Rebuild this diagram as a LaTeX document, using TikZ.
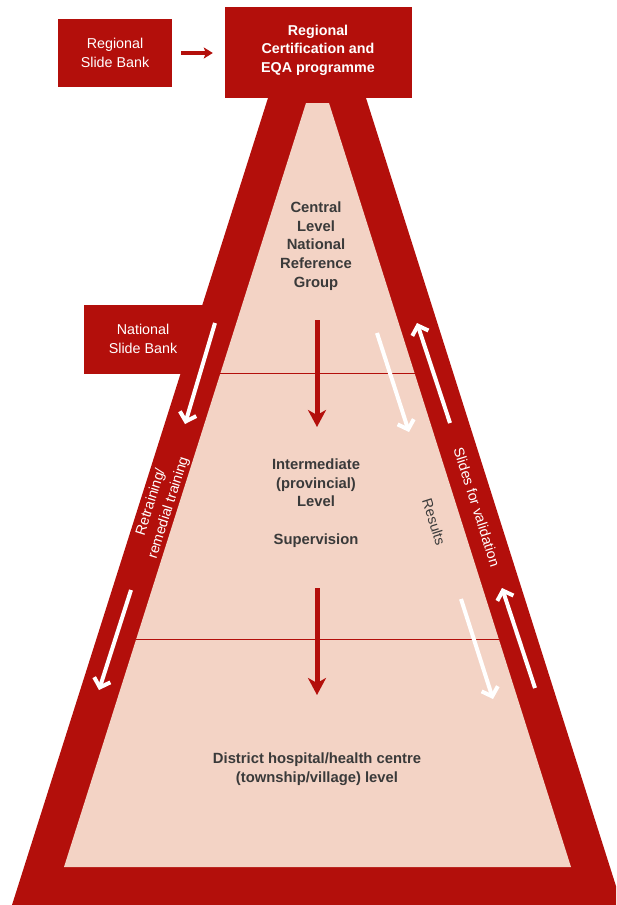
\documentclass[tikz,border=0pt]{standalone}
\usepackage{fontspec}
\setmainfont{Liberation Sans}
\usetikzlibrary{arrows.meta}
\definecolor{dred}{RGB}{179,15,11}
\definecolor{pinkfill}{RGB}{243,211,197}
\definecolor{txtgray}{RGB}{58,58,58}
\begin{document}
\begin{tikzpicture}[x=1pt,y=-1pt,
  lbl/.style={font=\fontsize{14.3}{18.5}\selectfont, align=center, inner sep=0pt},
  boxw/.style={lbl, text=white},
  boxb/.style={lbl, text=white, font=\fontsize{14.3}{18.5}\selectfont\bfseries},
  levtxt/.style={lbl, text=txtgray, font=\fontsize{14.8}{18.7}\selectfont\bfseries},
  redbox/.style={fill=dred, draw=none, inner sep=0pt},
  downarrow/.style={draw=dred, line width=5pt, -{Stealth[length=17pt,width=18pt,inset=5pt]}},
  smallarrow/.style={draw=dred, line width=4pt, -{Stealth[length=9pt,width=11pt,inset=2pt]}},
  whitearrow/.style={draw=white, line width=4pt, -{Straight Barb[length=8pt,width=17pt]}},
  divline/.style={draw=dred, line width=1pt}
]
\useasboundingbox (0,0) rectangle (616,905);
\begin{scope}
  \clip (0,0) rectangle (616,905);
  \fill[dred] (268,98) -- (366,98) -- (622,905) -- (12,905) -- cycle;
\end{scope}
% National slide bank box (merges with band)
\fill[dred] (84,305) rectangle (212,374);
% pink interior
\fill[pinkfill] (306,103) -- (329,103) -- (571,867) -- (64,867) -- cycle;
\coordinate (d1l) at (220.4,373);
\coordinate (d1r) at (414.6,373);
\coordinate (d2l) at (136,639);
\coordinate (d2r) at (499,639);
\draw[divline] (d1l) -- (d1r);
\draw[divline] (d2l) -- (d2r);

% top boxes
\node[redbox, minimum width=114pt, minimum height=68pt] (rsb) at (115,53) {};
\node[boxw] (rsbt) at (115,53) {Regional\\Slide Bank};
\node[redbox, minimum width=187pt, minimum height=91pt] (cert) at (318.5,52.5) {};
\node[boxb] (certt) at (318,50) {Regional\\Certification and\\EQA programme};
\draw[smallarrow, shorten <=9pt, shorten >=12pt] (rsb.east) -- (rsb.east -| cert.west);

\node[boxw] (nsb) at (143,339) {National\\Slide Bank};

% level texts
\node[levtxt] (central) at (316,246) {Central\\Level\\National\\Reference\\Group};
\node[levtxt] (inter) at (316,503) {Intermediate\\(provincial)\\Level\\[18.7pt]Supervision};
\node[levtxt] (district) at (317,769) {District hospital/health centre\\(township/village) level};

% central red arrows
\coordinate (a1s) at (317,320);
\coordinate (a1e) at (317,427);
\coordinate (a2s) at (317,588);
\coordinate (a2e) at (317,695);
\draw[downarrow] (a1s) -- (a1e);
\draw[downarrow] (a2s) -- (a2e);

% left band white arrows
\coordinate (l1s) at (215,323);
\coordinate (l1e) at (185,424);
\coordinate (l2s) at (131,590);
\coordinate (l2e) at (99,690);
\draw[whitearrow] (l1s) -- (l1e);
\draw[whitearrow] (l2s) -- (l2e);

% results white arrows (inside pink)
\coordinate (r1s) at (377,333);
\coordinate (r1e) at (409,432);
\coordinate (r2s) at (461,599);
\coordinate (r2e) at (493,699);
\draw[whitearrow] (r1s) -- (r1e);
\draw[whitearrow] (r2s) -- (r2e);

% right band white arrows (up)
\coordinate (u1s) at (450,423);
\coordinate (u1e) at (417,323);
\coordinate (u2s) at (535,688);
\coordinate (u2e) at (502,588);
\draw[whitearrow] (u1s) -- (u1e);
\draw[whitearrow] (u2s) -- (u2e);

% rotated labels
\node[boxw, rotate=-72.4] (slides) at (477,507) {Slides for validation};
\node[lbl, text=txtgray, rotate=-72.4] (results) at (434,522) {Results};
\node[boxw, rotate=72.4] (retrain) at (160,505) {Retraining/\\remedial training};
\end{tikzpicture}
\end{document}
